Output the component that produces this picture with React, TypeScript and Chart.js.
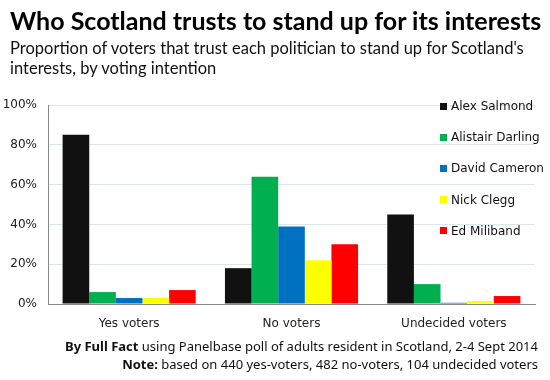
import React, { useEffect, useRef } from "react";
import { Chart, registerables } from "chart.js";

Chart.register(...registerables);

const categories = ["Yes voters", "No voters", "Undecided voters"];
const seriesNames = ["Alex Salmond", "Alistair Darling", "David Cameron", "Nick Clegg", "Ed Miliband"];
const seriesColors = ["#111111", "#00b050", "#0070c0", "#ffff00", "#ff0000"];
const salmond = [85, 18, 45];
const darling = [6, 64, 10];
const cameron = [3, 39, 0.6];
const clegg = [3, 22, 1.5];
const miliband = [7, 30, 4];
const seriesValues = [salmond, darling, cameron, clegg, miliband];
const yTicks = [0, 20, 40, 60, 80, 100];

const textFont = "'DejaVu Sans', sans-serif";
const headFont = "Lato, sans-serif";
const footFont = "'Noto Sans', sans-serif";

export default function App() {
  const ref = useRef<HTMLCanvasElement>(null);
  useEffect(() => {
    if (!ref.current) return;
    const chart = new Chart(ref.current, {
      type: "bar",
      data: {
        labels: categories,
        datasets: seriesNames.map((n, i) => ({
          label: n,
          data: seriesValues[i],
          backgroundColor: seriesColors[i],
          borderWidth: 0,
          barPercentage: 1,
          categoryPercentage: 0.82,
        })),
      },
      options: {
        animation: false,
        responsive: false,
        maintainAspectRatio: false,
        layout: { padding: { top: 105, right: 15, bottom: 46, left: 0 } },
        plugins: { legend: { display: false }, tooltip: { enabled: false }, title: { display: false } },
        scales: {
          x: {
            grid: { display: false },
            border: { display: true, color: "#888888", width: 1 },
            ticks: { color: "#222", font: { family: textFont, size: 12 }, padding: 5 },
            afterFit: (s: any) => { s.height = 30; },
          },
          y: {
            min: 0,
            max: 100,
            afterBuildTicks: (s: any) => { s.ticks = yTicks.map((v) => ({ value: v })); },
            grid: { color: "#dde5ee", drawTicks: false, lineWidth: 1 },
            border: { display: true, color: "#888888", width: 1 },
            ticks: {
              color: "#222",
              font: { family: textFont, size: 12 },
              padding: 11,
              callback: (v: any) => v + "%",
            },
            afterFit: (s: any) => { s.width = 48; },
          },
        },
      },
    });
    return () => chart.destroy();
  }, []);

  return (
    <div style={{ position: "absolute", left: 0, top: 0, width: 550, height: 380, background: "#fff", overflow: "hidden" }}>
      <canvas ref={ref} width={550} height={380} style={{ position: "absolute", left: 0, top: 0 }} />
      <div style={{ position: "absolute", left: 10, top: 5, fontFamily: headFont, fontWeight: 700, fontSize: 25, color: "#000", whiteSpace: "nowrap" }}>
        Who Scotland trusts to stand up for its interests
      </div>
      <div style={{ position: "absolute", left: 10, top: 38, width: 530, fontFamily: headFont, fontSize: 16.5, lineHeight: "20px", color: "#111" }}>
        Proportion of voters that trust each politician to stand up for Scotland's<br />interests, by voting intention
      </div>
      {seriesNames.map((n, i) => (
        <div key={n} style={{ position: "absolute", left: 440, top: 98 + i * 31.2, height: 16, display: "flex", alignItems: "center", fontFamily: textFont, fontSize: 12, color: "#111", whiteSpace: "nowrap" }}>
          <span style={{ display: "inline-block", width: 7, height: 7, background: seriesColors[i], marginRight: 4 }} />
          {n}
        </div>
      ))}
      <div style={{ position: "absolute", right: 12, top: 337, textAlign: "right", fontFamily: footFont, fontSize: 13, lineHeight: "18px", color: "#111", whiteSpace: "nowrap" }}>
        <div><b>By Full Fact</b> using Panelbase poll of adults resident in Scotland, 2-4 Sept 2014</div>
        <div><b>Note:</b> based on 440 yes-voters, 482 no-voters, 104 undecided voters</div>
      </div>
    </div>
  );
}
